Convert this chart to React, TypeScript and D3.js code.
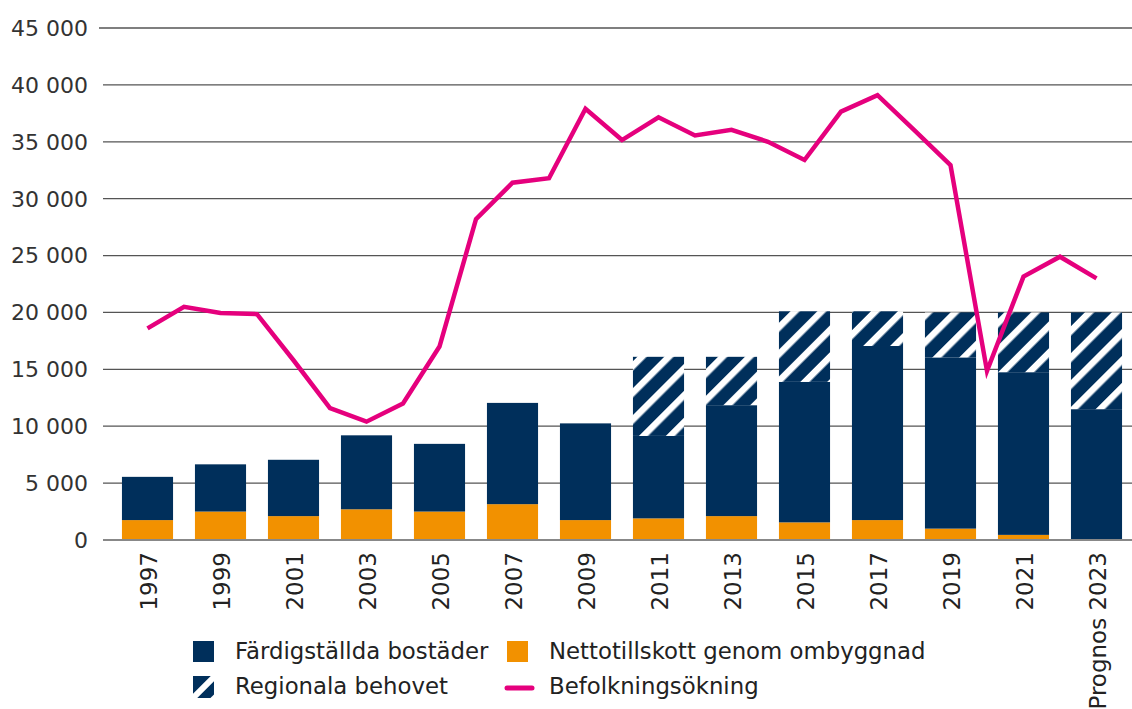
import React from "react";
import * as d3 from "d3";

const barLabels = ["1997","1999","2001","2003","2005","2007","2009","2011","2013","2015","2017","2019","2021","Prognos 2023"];
const ombyggnad = [1750, 2500, 2100, 2700, 2500, 3150, 1750, 1900, 2100, 1550, 1750, 1000, 450, 0];
const fardigstallda = [3800, 4150, 4950, 6500, 5950, 8900, 8500, 7250, 9750, 12350, 15300, 15050, 14300, 11500];
const regionaltBehov: (number | null)[] = [null, null, null, null, null, null, null, 16100, 16100, 20100, 20100, 20000, 20000, 20000];

const lineYears = [1997,1998,1999,2000,2001,2002,2003,2004,2005,2006,2007,2008,2009,2010,2011,2012,2013,2014,2015,2016,2017,2018,2019,2020,2021,2022,2023];
const befolkning = [18600,20500,19950,19850,15800,11600,10400,12000,17000,28200,31400,31800,37900,35150,37150,35550,36050,35000,33400,37650,39100,36050,32950,14850,23150,24900,23000];

const yTicks = [0,5000,10000,15000,20000,25000,30000,35000,40000,45000];

const NAVY = "#002f5b";
const ORANGE = "#f29100";
const PINK = "#e5007d";
const FONT = "'DejaVu Sans', Verdana, sans-serif";
const LEGFONT = "'DejaVu Sans', Verdana, sans-serif";

export default function App() {
  const W = 1132, H = 709;
  const y = d3.scaleLinear().domain([0, 45000]).range([540, 28]);
  const x = d3.scaleBand<string>().domain(barLabels).range([111, 1133]).paddingInner(0.3).paddingOuter(0.15);
  const bw = x.bandwidth();
  const xl = d3.scaleLinear().domain([1997, 2023]).range([x(barLabels[0])! + bw / 2, x(barLabels[barLabels.length - 1])! + bw / 2]);
  const fmt = (v: number) => d3.format(",")(v).replace(/,/g, " ");
  const line = d3.line<number>().x((_, i) => xl(lineYears[i])).y((d) => y(d));

  return (
    <svg width={W} height={H} style={{ display: "block", position: "absolute", left: 0, top: 0 }}>
      <defs>
        <pattern id="hatch" patternUnits="userSpaceOnUse" width={19} height={19} patternTransform="rotate(45)">
          <rect x={0} y={0} width={19} height={19} fill={NAVY} />
          <rect x={0} y={0} width={6.5} height={19} fill="#fff" />
        </pattern>
        <clipPath id="legclip"><rect x={193} y={676} width={21} height={22} /></clipPath>
      </defs>
      <rect width={W} height={H} fill="#fff" />
      {yTicks.map((t) => (
        <g key={t}>
          {t > 0 && <line x1={t === 45000 ? 99 : 103} x2={1132} y1={y(t)} y2={y(t)} stroke="#555" strokeWidth={1.3} />}
          <text x={88} y={y(t)} dy="0.36em" textAnchor="end" fontFamily={FONT} fontSize={22} fill="#333">{fmt(t)}</text>
        </g>
      ))}
      {barLabels.map((c, i) => {
        const x0 = x(c)!;
        const top = ombyggnad[i] + fardigstallda[i];
        const reg = regionaltBehov[i];
        return (
          <g key={c}>
            <rect x={x0} width={bw} y={y(ombyggnad[i])} height={y(0) - y(ombyggnad[i])} fill={ORANGE} />
            <rect x={x0} width={bw} y={y(top)} height={y(ombyggnad[i]) - y(top)} fill={NAVY} />
            {reg !== null && reg > top && (
              <rect x={x0} width={bw} y={y(reg)} height={y(top) - y(reg)} fill="url(#hatch)" />
            )}
          </g>
        );
      })}
      <line x1={103} x2={1132} y1={y(0)} y2={y(0)} stroke="#888" strokeWidth={2} />
      <path d={line(befolkning)!} fill="none" stroke={PINK} strokeWidth={4.5} strokeLinejoin="miter" />
      {barLabels.map((c) => {
        const cx = x(c)! + bw / 2 + 1;
        return (
          <text key={c} transform={`translate(${cx},552) rotate(-90)`} textAnchor="end" dy="0.36em" fontFamily={FONT} fontSize={23} fill="#222">{c}</text>
        );
      })}
      {/* legend */}
      <rect x={193} y={641} width={21} height={21} fill={NAVY} />
      <text x={235} y={659} fontFamily={LEGFONT} fontSize={22.8} fill="#222">Färdigställda bostäder</text>
      <rect x={507} y={641} width={21} height={21} fill={ORANGE} />
      <text x={549} y={659} fontFamily={LEGFONT} fontSize={22.8} fill="#222">Nettotillskott genom ombyggnad</text>
      <g clipPath="url(#legclip)">
        <rect x={193} y={676} width={21} height={22} fill={NAVY} />
        <line x1={188} y1={703} x2={219} y2={672} stroke="#fff" strokeWidth={6} />
        <line x1={203} y1={709} x2={229} y2={683} stroke="#fff" strokeWidth={5} />
      </g>
      <text x={235} y={694} fontFamily={LEGFONT} fontSize={22.8} fill="#222">Regionala behovet</text>
      <line x1={507} x2={532} y1={688} y2={688} stroke={PINK} strokeWidth={5} strokeLinecap="round" />
      <text x={549} y={694} fontFamily={LEGFONT} fontSize={22.8} fill="#222">Befolkningsökning</text>
    </svg>
  );
}
